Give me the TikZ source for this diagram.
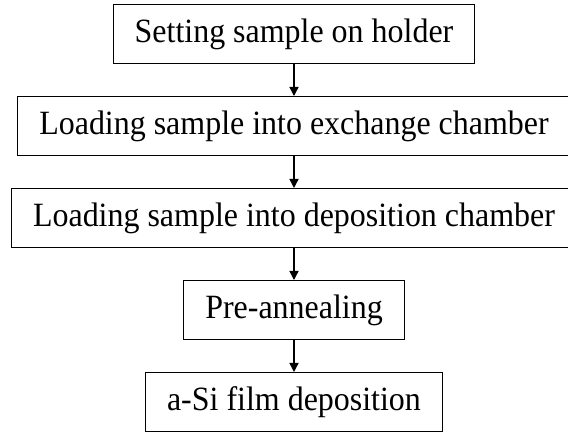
\documentclass[tikz,border=0pt]{standalone}
\usepackage{fontspec}
\setmainfont{Liberation Serif}[FakeStretch=0.94]
\usetikzlibrary{positioning,arrows.meta}

\tikzset{
    stepbox/.style={draw, line width=1pt, minimum height=59pt, inner xsep=21.5pt,
        font=\fontsize{34}{38}\selectfont},
    flow/.style={line width=1.4pt, -{Triangle[length=9pt,width=9pt]}},
}

\begin{document}
\begin{tikzpicture}[node distance=32pt]
    \useasboundingbox (0,0) rectangle (568pt,-435pt);
    \node [stepbox] at (294pt,-34pt) (holder) {Setting sample on holder};
    \node [stepbox, below=of holder] (exch) {Loading sample into exchange chamber};
    \node [stepbox, below=of exch] (depch) {Loading sample into deposition chamber};
    \node [stepbox, below=of depch] (anneal) {Pre-annealing};
    \node [stepbox, below=of anneal] (film) {a-Si film deposition};

    \draw [flow] (holder) -- (exch);
    \draw [flow] (exch) -- (depch);
    \draw [flow] (depch) -- (anneal);
    \draw [flow] (anneal) -- (film);
\end{tikzpicture}
\end{document}
